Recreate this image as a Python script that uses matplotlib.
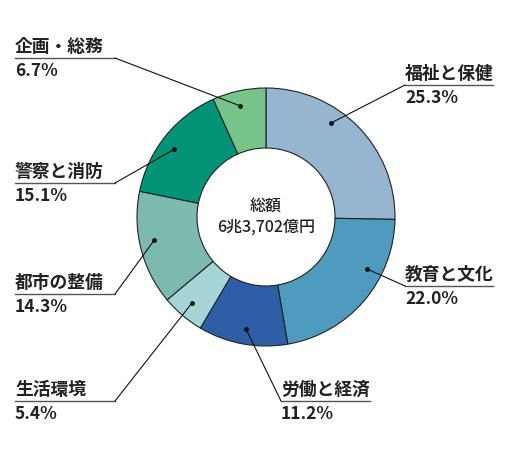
import numpy as np
import matplotlib
matplotlib.use("Agg")
import matplotlib.pyplot as plt

plt.rcParams['font.family'] = ['Noto Sans CJK JP', 'DejaVu Sans']

# data (clockwise from 12 o'clock)
labels = ["福祉と保健", "教育と文化", "労働と経済", "生活環境", "都市の整備", "警察と消防", "企画・総務"]
shares = [25.3, 22.0, 11.2, 5.4, 14.3, 15.1, 6.7]
colors = ["#95b5d1", "#4f9bbf", "#2e5fa6", "#a5d5d6", "#7cbab0", "#039477", "#76c48a"]
total_text = "総額\n6兆3,702億円"

# layout in pixel units (y measured from top)
W, H = 520, 460
cx, cy = 266, 218
r_out, r_in = 129, 69
dot_r = 114
dot_frac = [0.38, 0.33, 0.49, 0.52, 0.55, 0.46, 0.46]   # where the leader dot sits in each wedge
# label text x, underline y, underline x-range
label_pos = [
    (405, 86, 405, 493),
    (405, 287, 405, 493),
    (281, 402, 281, 370),
    (15, 402, 15, 115),
    (15, 295, 15, 115),
    (15, 184, 15, 115),
    (15, 59, 15, 115),
]

fig = plt.figure(figsize=(W / 100, H / 100), dpi=100)
ax = fig.add_axes([0, 0, 1, 1])

def Y(y):
    return H - y

wedges, _ = ax.pie(shares, colors=colors, startangle=90, counterclock=False,
                   radius=r_out, center=(cx, Y(cy)),
                   wedgeprops=dict(width=r_out - r_in, edgecolor="#222222", linewidth=0.8))
ax.set_xlim(0, W)
ax.set_ylim(0, H)
ax.set_aspect('equal')
ax.axis('off')

ax.text(cx, Y(cy) + 1, total_text, ha='center', va='center', fontsize=11.5,
        linespacing=1.3, color="#222222", fontweight='medium')

start = 0.0
for i, (lab, s) in enumerate(zip(labels, shares)):
    a0 = start
    a1 = start + s / sum(shares) * 360
    start = a1
    ang = np.deg2rad(a0 + (a1 - a0) * dot_frac[i])   # clockwise from top
    dx = cx + dot_r * np.sin(ang)
    dy = cy - dot_r * np.cos(ang)
    tx, uy, ux0, ux1 = label_pos[i]
    # elbow end: the inner end of the underline
    ex = ux0 if ux0 > 200 else ux1
    ax.plot([ux0, ux1], [Y(uy), Y(uy)], color="#555555", lw=1.0)
    ax.plot([ex, dx], [Y(uy), Y(dy)], color="#111111", lw=0.8)
    ax.plot(dx, Y(dy), 'o', color="#111111", ms=2.5)
    ax.text(tx, Y(uy) + 3, lab, ha='left', va='bottom', fontsize=12.8,
            fontweight='bold', color="#222222")
    ax.text(tx, Y(uy) - 3, f"{s:.1f}%", ha='left', va='top', fontsize=12.5,
            fontweight='bold', color="#222222")

fig.savefig("out.png", dpi=100)
